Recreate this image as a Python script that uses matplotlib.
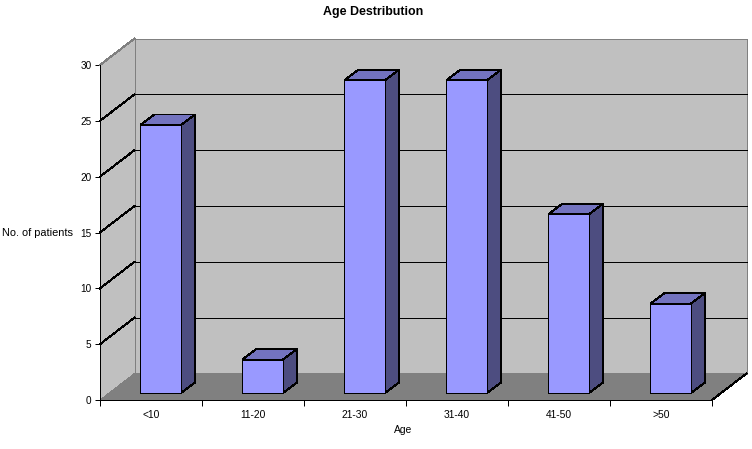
import numpy as np
import matplotlib
matplotlib.use("Agg")
import matplotlib.pyplot as plt
from matplotlib.patches import Polygon

plt.rcParams['font.family'] = ['Liberation Sans', 'DejaVu Sans']
plt.rcParams['patch.antialiased'] = False
plt.rcParams['lines.antialiased'] = False

categories = ["<10", "11-20", "21-30", "31-40", "41-50", ">50"]
patients = [24, 3, 28, 28, 16, 8]
y_ticks = [0, 5, 10, 15, 20, 25, 30]

FRONT = "#9999FF"
TOP = "#7373BF"
SIDE = "#4D4D80"
WALL = "#C0C0C0"
FLOOR = "#808080"
LW = 0.72  # one pixel at 100 dpi

fig = plt.figure(figsize=(7.52, 4.49), dpi=100)
fig.patch.set_facecolor("white")
ax = fig.add_axes([100 / 752, 1 - 400 / 449, 612 / 752, 335 / 449])
ax.set_xlim(0, 6)
ax.set_ylim(0, 30)

# 3d depth of the box and of the bars, in data units
px_x = 6 / 612
px_y = 30 / 335
dx = 34.5 * px_x
dy = 26.5 * px_y
bar_dx = 14 * px_x
bar_dy = 10.5 * px_y
bar_w = 40.5 * px_x
shift_x = 9.6 * px_x
base = 7 * px_y


def poly(pts, fc, ec="none", lw=0.0, z=1):
    ax.add_patch(Polygon(pts, closed=True, facecolor=fc, edgecolor=ec, linewidth=lw,
                         zorder=z, clip_on=False))


# walls and floor
poly([(dx, dy), (6 + dx, dy), (6 + dx, 30 + dy), (dx, 30 + dy)], WALL, z=1)
poly([(0, 0), (dx, dy), (dx, 30 + dy), (0, 30)], WALL, z=1)
poly([(0, 0), (6, 0), (6 + dx, dy), (dx, dy)], FLOOR, z=1)

ax.plot([dx, dx], [dy, 30 + dy], color=FLOOR, lw=LW, zorder=2, clip_on=False)
ax.plot([0, dx], [30, 30 + dy], color=FLOOR, lw=LW, zorder=2, clip_on=False)
ax.plot([dx, 6 + dx], [30 + dy, 30 + dy], color=FLOOR, lw=LW, zorder=2, clip_on=False)
ax.plot([6 + dx, 6 + dx], [dy, 30 + dy], color=FLOOR, lw=LW, zorder=2, clip_on=False)

# gridlines on the back and side walls
for t in y_ticks[1:-1]:
    ax.plot([0, dx], [t, t + dy], color="black", lw=LW, zorder=2, clip_on=False)
    ax.plot([dx, 6 + dx], [t + dy, t + dy], color="black", lw=LW, zorder=2, clip_on=False)
ax.plot([6, 6 + dx], [0, dy], color="black", lw=LW, zorder=2, clip_on=False)

# bars
x = np.arange(len(categories))
for i, v in enumerate(patients):
    left = x[i] + 0.5 + shift_x - bar_w / 2
    right = left + bar_w
    poly([(left, v + base), (right, v + base), (right + bar_dx, v + base + bar_dy),
          (left + bar_dx, v + base + bar_dy)], TOP, "black", LW, 3)
    poly([(right, base), (right + bar_dx, base + bar_dy), (right + bar_dx, v + base + bar_dy),
          (right, v + base)], SIDE, "black", LW, 3)
ax.bar(x + 0.5 + shift_x, patients, width=bar_w, bottom=base, color=FRONT, edgecolor="black",
       linewidth=LW, zorder=4, clip_on=False)

ax.patch.set_visible(False)
for s in ["top", "right"]:
    ax.spines[s].set_visible(False)
for s in ["left", "bottom"]:
    ax.spines[s].set_linewidth(LW)
    ax.spines[s].set_zorder(5)
    ax.spines[s].set_antialiased(False)

ax.set_xticks(np.arange(len(categories) + 1))
ax.set_xticklabels([""] * (len(categories) + 1))
ax.set_yticks(y_ticks)
ax.tick_params(axis="y", length=3.6, width=LW, labelsize=7.2, pad=2.5)
ax.tick_params(axis="x", length=4.3, width=LW)
for i, c in enumerate(categories):
    ax.text(i + 0.5, -15 * px_y, c, ha="center", va="center", fontsize=7.4)

fig.text(373 / 752, 1 - 12 / 449, "Age Destribution", ha="center", va="center",
         fontsize=8.9, fontweight="bold")
fig.text(38 / 752, 1 - 233 / 449, "No. of patients", ha="center", va="center", fontsize=7.9)
fig.text(403 / 752, 1 - 430 / 449, "Age", ha="center", va="center", fontsize=7.4)

fig.savefig("out.png", dpi=100)
